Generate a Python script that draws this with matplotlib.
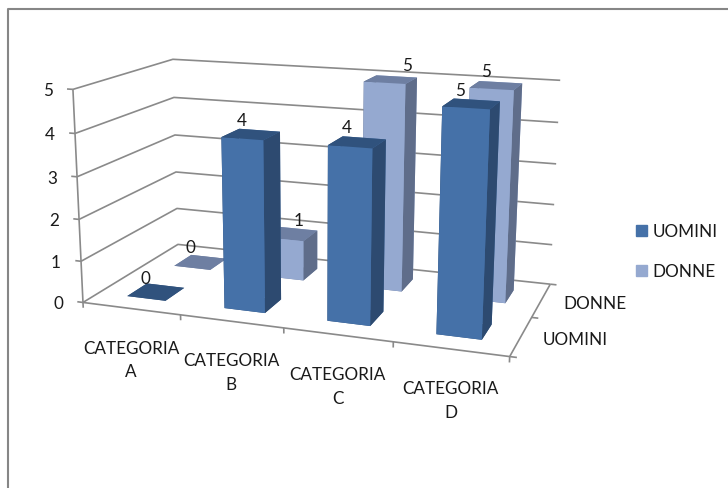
import matplotlib
matplotlib.use("Agg")
import matplotlib.pyplot as plt
from matplotlib.lines import Line2D
from matplotlib.patches import Patch
from mpl_toolkits.mplot3d import proj3d

plt.rcParams["font.family"] = ["Lato", "DejaVu Sans"]

categories = ["CATEGORIA\nA", "CATEGORIA\nB", "CATEGORIA\nC", "CATEGORIA\nD"]
series_names = ["UOMINI", "DONNE"]
uomini = [0, 4, 4, 5]
donne = [0, 1, 5, 5]
value_ticks = [0, 1, 2, 3, 4, 5]

GRID = "#8a8a8a"
TEXT = "#1a1a1a"
# faces of bar3d: bottom, top, front, back, left, right
UOMINI_FACES = ["#30527d", "#30527d", "#4571a8", "#4571a8", "#2d4a70", "#2d4a70"]
DONNE_FACES = ["#6e7fa2", "#6e7fa2", "#95a9d0", "#95a9d0", "#5f6d8a", "#5f6d8a"]
BAR = 0.4
FONT = 12.3

fig = plt.figure(figsize=(7.28, 4.89), dpi=100)
ax = fig.add_axes([0.0821, 0.0705, 0.7020, 1.0451], projection="3d", computed_zorder=False)
ax.set_xlim(0, 4)
ax.set_ylim(0, 2)
ax.set_zlim(0, 5)
ax.view_init(elev=14.115, azim=-70.554, roll=-0.11)
ax.set_proj_type("persp", focal_length=0.4534)
ax.set_box_aspect((1.9993, 1.0052, 1))
ax.set_axis_off()


def line3d(xs, ys, zs):
    ax.plot(xs, ys, zs, color=GRID, lw=1.2, zorder=1, solid_capstyle="butt")


def label(x, y, z, text, dx, dy, **kw):
    # place text at a pixel offset from a point of the 3D box
    px, py, _ = proj3d.proj_transform(x, y, z, ax.get_proj())
    kw.setdefault("ha", "center")
    ax.annotate(text, (px, py), xycoords="data", xytext=(dx, dy), textcoords="offset pixels",
                va="center", fontsize=FONT, color=TEXT, zorder=30, annotation_clip=False, **kw)


# walls and floor
for z in value_ticks:
    line3d([0, 0, 4], [0, 2, 2], [z, z, z])
    line3d([-0.06, 0], [0, 0], [z, z])
line3d([0, 0], [0, 0], [0, 5])
line3d([0, 4, 4, 4], [0, 0, 2, 2], [0, 0, 0, 0])
for i in range(len(categories) + 1):
    line3d([i, i], [0, 0], [0, -0.13])
for j in range(len(series_names) + 1):
    line3d([4, 4.06], [j, j], [0, 0])

# back row first so the front row covers it
for row, (values, faces) in enumerate([(donne, DONNE_FACES), (uomini, UOMINI_FACES)]):
    y0 = (1 if row == 0 else 0) + (1 - BAR) / 2
    for i, v in enumerate(values):
        ax.bar3d(i + (1 - BAR) / 2, y0, 0, BAR, BAR, v, color=faces, shade=False,
                 linewidth=0, zorder=3 + row * 10 + i)

# value labels above the bars
uomini_offsets = [(-11, 14), (-9, 14), (-10, 15), (-11, 14)]
donne_offsets = [(-10, 15), (7, 14), (16, 15), (-10, 15)]
for i in range(len(categories)):
    label(i + 0.5, 0.5, uomini[i], str(uomini[i]), *uomini_offsets[i])
    label(i + 0.5, 1.5, donne[i], str(donne[i]), *donne_offsets[i])

for z in value_ticks:
    label(0, 0, z, str(z), -25, -1, ha="center")

for i, name in enumerate(categories):
    label(i + 0.5, 0, 0, name, 0, -51, ha="center", linespacing=1.6)

label(4, 1.5, 0, series_names[1], 22, -3, ha="left")
label(4, 0.5, 0, series_names[0], 22, -3, ha="left")

handles = [Patch(color=UOMINI_FACES[2], label=series_names[0]),
           Patch(color=DONNE_FACES[2], label=series_names[1])]
fig.legend(handles=handles, loc="center left", bbox_to_anchor=(0.873, 0.484), frameon=False,
           fontsize=FONT, labelcolor=TEXT, handlelength=0.65, handleheight=0.65,
           handletextpad=0.35, labelspacing=1.4, borderpad=0, borderaxespad=0)

# chart frame, only the top and left edges are visible
fig.add_artist(Line2D([8 / 728, 8 / 728, 1], [0, 479 / 489, 479 / 489], color="#868686", lw=1.5))

fig.savefig("out.png", dpi=100)
